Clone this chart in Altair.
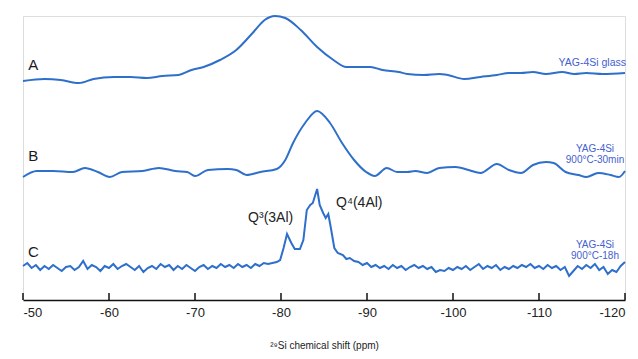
import altair as alt
import pandas as pd

# ---- data ----
# Trace A: YAG-4Si glass
a_ppm = [-50.0, -52.5, -54.4, -56.5, -58.2, -60.6, -62.5, -64.4, -66.2, -68.1, -69.6, -71.0,
         -72.9, -74.8, -76.7, -78.1, -79.3, -80.5, -82.3, -84.2, -86.1, -87.6, -89.0, -90.4,
         -91.8, -93.7, -94.7, -96.6, -98.4, -99.4, -101.3, -103.2, -105.1, -106.5, -107.9,
         -109.3, -110.8, -112.7, -114.1, -115.5, -117.4, -120.0]
a_int = [0, 2, 1, -2, 2, 4, 4, 3, 5, 6, 11, 14, 21, 31, 48, 61, 65, 63, 51, 34, 21, 14, 14, 14,
         11, 9, 7, 6, 7, 6, 2, 4, 6, 8, 8, 9, 7, 9, 7, 8, 7, 8]

# Trace B: YAG-4Si 900°C-30min
b_ppm = [-50.0, -51.6, -53.5, -55.8, -57.2, -58.7, -60.1, -61.5, -63.9, -65.8, -67.7, -69.1,
         -70.0, -71.5, -73.8, -74.8, -76.0, -77.6, -79.5, -80.5, -81.4, -82.8, -84.2, -85.7,
         -87.1, -88.5, -89.9, -90.9, -92.3, -93.5, -94.7, -95.6, -97.0, -98.4, -100.3, -101.8,
         -103.2, -105.1, -106.5, -107.9, -109.3, -110.8, -111.7, -113.1, -114.6, -115.5,
         -116.9, -118.3, -119.3, -120.0]
b_int = [-1, 5, 5, 4, 8, 4, -1, 4, 5, 8, 5, 4, 0, 6, 7, 6, 1, 4, 7, 16, 33, 53, 65, 53, 33, 16,
         4, 0, 8, 4, 4, 5, 3, 8, 9, 6, 3, 12, 6, 3, 11, 14, 13, 4, 1, -1, 3, 1, -1, 5]

# Trace C: YAG-4Si 900°C-18h
c_ppm = [-50.0, -50.5, -51.0, -51.5, -52.0, -52.5, -53.0, -53.5, -54.0, -54.5, -55.0, -55.5,
         -56.0, -56.5, -57.0, -57.5, -58.0, -58.5, -59.0, -59.5, -60.0, -60.5, -61.0, -61.5,
         -62.0, -62.5, -63.0, -63.5, -64.0, -64.5, -65.0, -65.5, -66.0, -66.5, -67.0, -67.5,
         -68.0, -68.5, -69.0, -69.5, -70.0, -70.5, -71.0, -71.5, -72.0, -72.5, -73.0, -73.5,
         -74.0, -74.5, -75.0, -75.5, -76.0, -76.5, -77.0, -77.5, -78.0, -78.5,
         -79.0, -79.5, -79.9, -80.3, -80.7, -81.2, -81.6, -82.2, -82.6, -83.0, -83.4, -83.7,
         -84.2, -84.5, -84.9, -85.2, -85.5, -85.8, -86.2, -86.6, -87.2, -87.6, -88.0, -88.5,
         -89.0, -89.5, -90.0, -90.5, -91.0, -91.5, -92.0, -92.5, -93.0, -93.5, -94.0, -94.5,
         -95.0, -95.5, -96.0, -96.5, -97.0, -97.5, -98.0, -98.5, -99.0, -99.5, -100.0, -100.5,
         -101.0, -101.5, -102.0, -102.5, -103.0, -103.5, -104.0, -104.5, -105.0, -105.5,
         -106.0, -106.5, -107.0, -107.5, -108.0, -108.5, -109.0, -109.5, -110.0, -110.5,
         -111.0, -111.5, -112.0, -112.5, -113.0, -113.5, -114.0, -114.5, -115.0, -115.5,
         -116.0, -116.5, -117.0, -117.5, -118.0, -118.5, -119.0, -119.5, -120.0]
c_int = [2, 5, 0, 3, -2, 2, -1, 3, 0, -3, 1, 2, -2, 1, 7, -1, 3, 1, -3, 2, 0, 4, -1, 2, 4, 1,
         -2, 2, -4, 0, 2, -1, 4, 1, 3, -2, 2, -1, 3, 0, -3, 1, 3, -1, 2, 0, 4, 1, 3, 0, 4, 1, 3,
         0, 4, 2, 5, 4,
         5, 6, 8, 20, 34, 25, 19, 19, 28, 58, 63, 65, 79, 63, 55, 50, 54, 40, 20, 15, 13, 9, 10, 7,
         6, 3, 5, 1, 3, 0, 2, -1, 3, 0, 2, -2, 1, 3, 0, 2, -1, 1, -4, -2, -3, 0, -2, 1, -1, 2,
         -2, 1, 4, -1, 2, 0, 3, -2, 1, -1, 2, 0, 3, 1, 4, 0, 2, -1, 3, 0, 2, -2, 1, -8, -3, 2,
         -1, 3, 0, 4, -2, 1, -6, -2, -4, 2, 6]

trace_names = ["A", "B", "C"]
trace_offsets = [219, 124, 32]
sample_labels = ["YAG-4Si glass", "YAG-4Si\n900°C-30min", "YAG-4Si\n900°C-18h"]
peak_labels = ["Q³(3Al)", "Q⁴(4Al)"]
peak_label_ppm = [-78.8, -89.1]
peak_label_level = [82, 97]
tick_values = [-50, -60, -70, -80, -90, -100, -110, -120]
x_title = "²⁹Si chemical shift (ppm)"

# ---- build tables ----
rows = []
for name, off, xs, ys in zip(trace_names, trace_offsets, [a_ppm, b_ppm, c_ppm], [a_int, b_int, c_int]):
    for i, (x, y) in enumerate(zip(xs, ys)):
        rows.append({"trace": name, "i": i, "ppm": x, "val": off + y})
df = pd.DataFrame(rows)

W, H = 602, 284
xscale = alt.Scale(domain=[-50, -120], nice=False, zero=False)
yscale = alt.Scale(domain=[0, H], nice=False, zero=False)
BLUE = "#2d6fca"

lines = []
for name in trace_names:
    sub = df[df.trace == name]
    interp = "linear" if name == "C" else "monotone"
    lines.append(
        alt.Chart(sub).mark_line(color=BLUE, strokeWidth=2, interpolate=interp).encode(
            x=alt.X("ppm:Q", scale=xscale,
                    axis=alt.Axis(values=tick_values, ticks=False, grid=False, domainColor="#111",
                                  domainWidth=1.5, labelFontSize=13, labelColor="#222",
                                  labelFont="Liberation Sans", labelPadding=6,
                                  labelExpr="'-' + abs(datum.value)", title=x_title,
                                  titleFont="Liberation Sans", titleFontSize=10,
                                  titleFontWeight="normal", titleColor="#222", titlePadding=21)),
            y=alt.Y("val:Q", scale=yscale, axis=None),
            order="i:Q",
        )
    )

# letter labels
letters_df = pd.DataFrame({"t": trace_names, "ppm": [-51.2] * 3,
                           "val": [o + d for o, d in zip(trace_offsets, [16, 20, 16])]})
letters = alt.Chart(letters_df).mark_text(fontSize=15, font="Liberation Sans", color="#1a1a1a",
                                          align="center", baseline="middle").encode(
    x=alt.X("ppm:Q", scale=xscale), y=alt.Y("val:Q", scale=yscale), text="t:N")

# sample labels
sdf = pd.DataFrame({"t": sample_labels,
                    "val": [o + l for o, l in zip(trace_offsets, [18, 29, 25])]})
s1 = alt.Chart(sdf.iloc[[0]]).mark_text(fontSize=10.5, font="Liberation Sans", color="#4460cf",
                                        align="right", baseline="middle").encode(
    x=alt.value(W + 1), y=alt.Y("val:Q", scale=yscale), text="t:N")
s2 = alt.Chart(sdf.iloc[[1, 2]]).mark_text(fontSize=10, font="Liberation Sans", color="#4460cf",
                                           align="center", baseline="middle", lineBreak="\n",
                                           lineHeight=11, dy=2).encode(
    x=alt.value(W - 30), y=alt.Y("val:Q", scale=yscale), text="t:N")

# peak labels
pdf = pd.DataFrame({"t": peak_labels, "ppm": peak_label_ppm, "val": peak_label_level})
peaks = alt.Chart(pdf).mark_text(fontSize=14, font="Liberation Sans", color="#222",
                                 align="center", baseline="middle").encode(
    x=alt.X("ppm:Q", scale=xscale), y=alt.Y("val:Q", scale=yscale), text="t:N")

# ticks pointing up
tdf = pd.DataFrame({"ppm": tick_values})
ticks = alt.Chart(tdf).mark_rule(color="#111", strokeWidth=1.5).encode(
    x=alt.X("ppm:Q", scale=xscale), y=alt.value(H - 7), y2=alt.value(H))

# top blue band
top = alt.Chart(pd.DataFrame({"k": [0]})).mark_rule(color="#0c58a8", strokeWidth=3).encode(
    x=alt.value(-13), x2=alt.value(609), y=alt.value(-11))

chart = alt.layer(top, *lines, ticks, letters, s1, s2, peaks).properties(
    width=W, height=H,
    autosize=alt.AutoSizeParams(type="none"),
    padding={"left": 15, "top": 8, "right": 5, "bottom": 51},
).configure_view(stroke=None).configure(background="white")

chart.save("out.html", embed_options={"renderer": "svg", "actions": False})
